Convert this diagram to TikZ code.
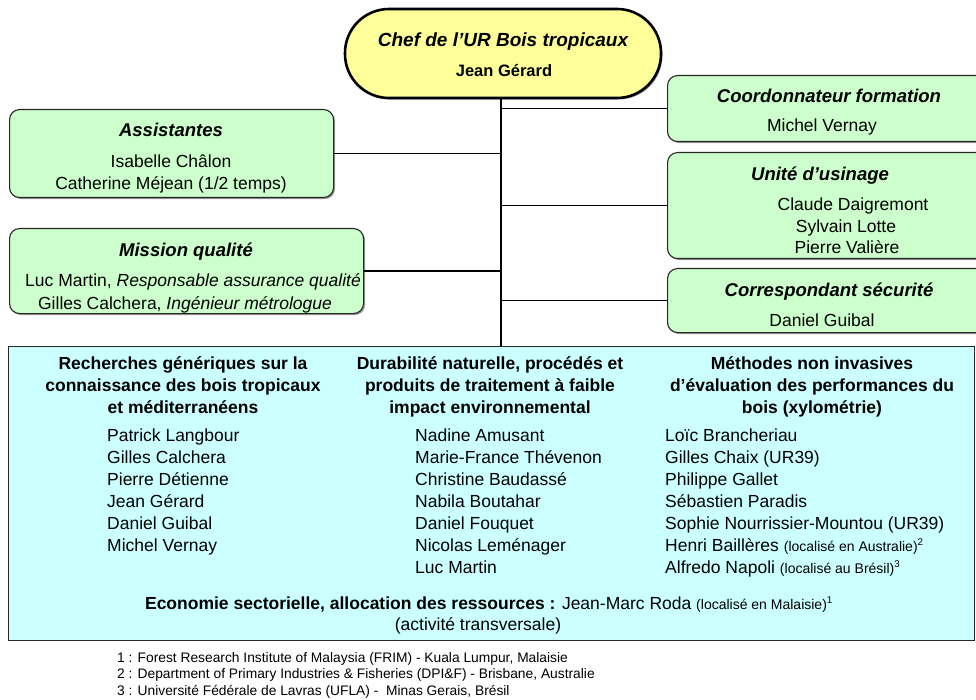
\documentclass[tikz,border=0pt]{standalone}
\usepackage{fontspec}
\setmainfont{Liberation Sans}
\usetikzlibrary{shadows}
\definecolor{chefyellow}{HTML}{FFFF99}
\definecolor{boxgreen}{HTML}{CCFFCC}
\definecolor{boxcyan}{HTML}{CCFFFF}
\newcommand{\fsz}[1]{\fontsize{#1}{#1}\selectfont}
\begin{document}
\begin{tikzpicture}[x=1pt,y=-1pt,
  boxshadow/.style={drop shadow={shadow xshift=1.5pt,shadow yshift=-1.5pt,fill=black!40,opacity=1}},
  greenbox/.style={draw=black!85,line width=1.1pt,fill=boxgreen,rounded corners=10pt,anchor=north west,inner sep=0pt,boxshadow},
  chefbox/.style={draw=black,line width=2.6pt,fill=chefyellow,rounded corners=44pt,inner sep=0pt,boxshadow},
  bigbox/.style={draw=black!85,line width=1.3pt,fill=boxcyan,anchor=north west,inner sep=0pt},
  link/.style={draw=black,line width=1.4pt},
  ttl/.style={anchor=base,inner sep=0pt,font=\fsz{18.5}\bfseries\itshape},
  nm/.style={anchor=base,inner sep=0pt,font=\fsz{17.5}},
  nmw/.style={anchor=base west,inner sep=0pt,font=\fsz{17.5}},
  hd/.style={anchor=base,inner sep=0pt,font=\fsz{17.5}\bfseries},
  fn/.style={anchor=base west,inner sep=0pt,font=\fsz{13.8}}
]
\useasboundingbox (0,0) rectangle (976,700);

% boxes
\node[chefbox,minimum width=316pt,minimum height=89pt] (chef) at (503,53.5) {};
\node[greenbox,minimum width=324pt,minimum height=88pt] (assist) at (9,109) {};
\node[greenbox,minimum width=354pt,minimum height=85pt] (mission) at (9,228) {};
\node[greenbox,minimum width=320pt,minimum height=66pt] (coord) at (667,75) {};
\node[greenbox,minimum width=320pt,minimum height=106pt] (unite) at (667,152) {};
\node[greenbox,minimum width=320pt,minimum height=64pt] (secu) at (667,268) {};
\node[bigbox,minimum width=966pt,minimum height=294pt] (big) at (8,346) {};

% connectors
\coordinate (trunk) at (501,0);
\draw[link] (chef.south -| trunk) -- (big.north -| trunk);
\draw[link] (coord.west) -- (coord.west -| trunk);
\draw[link] (unite.west) -- (unite.west -| trunk);
\draw[link] (secu.west) -- (secu.west -| trunk);
\draw[link] (assist.east) -- (assist.east -| trunk);
\draw[link] (mission.east) -- (mission.east -| trunk);

% chef text
\node[ttl,font=\fsz{19}\bfseries\itshape] (chefT) at (503,47) {Chef de l’UR Bois tropicaux};
\node[hd,font=\fsz{16.5}\bfseries] (chefN) at (504,77) {Jean Gérard};

% right boxes
\node[ttl] (coordT) at (829,103) {Coordonnateur formation};
\node[nm] (coordN) at (822,132) {Michel Vernay};
\node[ttl] (uniteT) at (820,181) {Unité d’usinage};
\node[nm] (uniteA) at (853,211) {Claude Daigremont};
\node[nm] (uniteB) at (846,233) {Sylvain Lotte};
\node[nm] (uniteC) at (847,254) {Pierre Valière};
\node[ttl] (secuT) at (829,297) {Correspondant sécurité};
\node[nm] (secuN) at (822,326) {Daniel Guibal};

% left boxes
\node[ttl] (assistT) at (171,137) {Assistantes};
\node[nm] (assistA) at (171,168) {Isabelle Châlon};
\node[nm] (assistB) at (171,190) {Catherine Méjean (1/2 temps)};
\node[ttl] (missionT) at (186,257) {Mission qualité};
\node[nm] (missionA) at (193,287) {Luc Martin, {\itshape Responsable assurance qualité}};
\node[nm] (missionB) at (185,309) {Gilles Calchera, {\itshape Ingénieur métrologue}};

% column 1
\node[hd] (c1a) at (183,369) {Recherches génériques sur la};
\node[hd] (c1b) at (183,391) {connaissance des bois tropicaux};
\node[hd] (c1c) at (183,413) {et méditerranéens};
\node[nmw] (n11) at (107,441) {Patrick Langbour};
\node[nmw] (n12) at (107,463) {Gilles Calchera};
\node[nmw] (n13) at (107,485) {Pierre Détienne};
\node[nmw] (n14) at (107,507) {Jean Gérard};
\node[nmw] (n15) at (107,529) {Daniel Guibal};
\node[nmw] (n16) at (107,551) {Michel Vernay};

% column 2
\node[hd] (c2a) at (490,369) {Durabilité naturelle, procédés et};
\node[hd] (c2b) at (490,391) {produits de traitement à faible};
\node[hd] (c2c) at (490,413) {impact environnemental};
\node[nmw] (n21) at (415,441) {Nadine Amusant};
\node[nmw] (n22) at (415,463) {Marie-France Thévenon};
\node[nmw] (n23) at (415,485) {Christine Baudassé};
\node[nmw] (n24) at (415,507) {Nabila Boutahar};
\node[nmw] (n25) at (415,529) {Daniel Fouquet};
\node[nmw] (n26) at (415,551) {Nicolas Leménager};
\node[nmw] (n27) at (415,573) {Luc Martin};

% column 3
\node[hd] (c3a) at (812,369) {Méthodes non invasives};
\node[hd] (c3b) at (812,391) {d’évaluation des performances du};
\node[hd] (c3c) at (812,413) {bois (xylométrie)};
\node[nmw] (n31) at (665,441) {Loïc Brancheriau};
\node[nmw] (n32) at (665,463) {Gilles Chaix (UR39)};
\node[nmw] (n33) at (665,485) {Philippe Gallet};
\node[nmw] (n34) at (665,507) {Sébastien Paradis};
\node[nmw] (n35) at (665,529) {Sophie Nourrissier-Mountou (UR39)};
\node[nmw] (n36) at (665,551) {Henri Baillères {\fsz{14}(localisé en Australie)\textsuperscript{2}}};
\node[nmw] (n37) at (665,573) {Alfredo Napoli {\fsz{14}(localisé au Brésil)\textsuperscript{3}}};

% transversal
\node[nm] (eco) at (489,609) {\textbf{Economie sectorielle, allocation des ressources :} Jean-Marc Roda {\fsz{14}(localisé en Malaisie)\textsuperscript{1}}};
\node[nm] (ecoB) at (478,630) {(activité transversale)};

% footnotes
\node[fn] (f1) at (117,662) {1 : Forest Research Institute of Malaysia (FRIM) - Kuala Lumpur, Malaisie};
\node[fn] (f2) at (117,678) {2 : Department of Primary Industries \& Fisheries (DPI\&F) - Brisbane, Australie};
\node[fn] (f3) at (117,695) {3 : Université Fédérale de Lavras (UFLA) -~ Minas Gerais, Brésil};
\end{tikzpicture}
\end{document}
